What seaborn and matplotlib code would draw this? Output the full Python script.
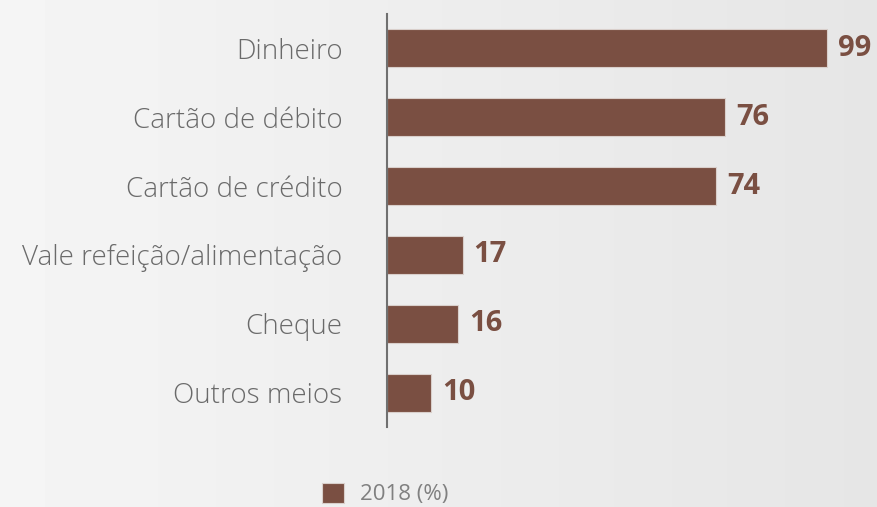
import matplotlib
matplotlib.use('Agg')
import matplotlib.pyplot as plt
import seaborn as sns
import pandas as pd
import numpy as np

################################################################################

categories = [
    'Dinheiro',
    'Cartão de débito',
    'Cartão de crédito',
    'Vale refeição/alimentação',
    'Cheque',
    'Outros meios',
]
values = [99, 76, 74, 17, 16, 10]
series_label = '2018 (%)'

bar_color = '#7a4f42'
text_color = '#6a6a6a'
legend_color = '#808080'
background = '#ececec'

################################################################################

sns.set_theme(style = 'white')
plt.rcParams['font.family'] = ['Open Sans', 'DejaVu Sans']

df = pd.DataFrame({'meio': categories, 'pct': values})

fig = plt.figure(figsize = (8.78, 5.07), dpi = 100, facecolor = background)

# soft light-to-gray backdrop, brighter on the left like the faded photo
bg = fig.add_axes([0, 0, 1, 1], zorder = -1)
bg.imshow(
    np.linspace(0.96, 0.90, 256).reshape(1, -1),
    cmap = 'gray', vmin = 0, vmax = 1, aspect = 'auto', extent = [0, 1, 0, 1]
)
bg.axis('off')

ax = fig.add_axes([387 / 878, 1 - 427 / 507, 1 - 387 / 878, 413 / 507])
ax.set_facecolor('none')

sns.barplot(
    data = df,
    x = 'pct',
    y = 'meio',
    orient = 'h',
    color = bar_color,
    width = 0.55,
    saturation = 1,
    edgecolor = '#d9cfcb',
    linewidth = 0.8,
    label = series_label,
    ax = ax
)

ax.set_xlim(0, 110.5)
ax.set_ylim(5.5, -0.5)
ax.set_xlabel('')
ax.set_ylabel('')
ax.set_xticks([])

# only the left spine stays, as a thin gray line
for side in ['top', 'right', 'bottom']:
    ax.spines[side].set_visible(False)
ax.spines['left'].set_color('#707070')
ax.spines['left'].set_linewidth(1.5)

ax.tick_params(axis = 'y', length = 0, pad = 32, labelsize = 20, labelcolor = text_color)
for label in ax.get_yticklabels():
    label.set_fontweight('light')

# value labels next to each bar
for container in ax.containers:
    ax.bar_label(container, padding = 8, fontsize = 21, fontweight = 'bold', color = bar_color)

legend = ax.legend(
    loc = 'center',
    bbox_to_anchor = (385 / 878, 1 - 494 / 507),
    bbox_transform = fig.transFigure,
    frameon = False,
    fontsize = 16,
    handlelength = 1.0,
    handleheight = 1.0,
    handletextpad = 0.7
)
for text in legend.get_texts():
    text.set_color(legend_color)

fig.savefig('out.png', dpi = 100, facecolor = background)
